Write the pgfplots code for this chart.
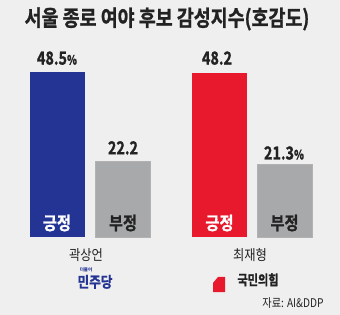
\documentclass[border=0pt]{standalone}
\usepackage{pgfplots}
\pgfplotsset{compat=1.18}
\usepackage{fontspec}
\setmainfont{Noto Sans CJK KR}
\newfontfamily\heavy{Noto Sans CJK KR Bold}[FakeBold=1.2]
\definecolor{bg}{HTML}{EFEFEF}
\definecolor{dblue}{HTML}{243494}
\definecolor{dred}{HTML}{E8192C}
\definecolor{lgray}{HTML}{A8A9AB}
\definecolor{txt}{HTML}{222222}
\begin{document}
\begin{tikzpicture}
\begin{axis}[
 width=340bp, height=315bp, scale only axis,
 xmin=0, xmax=340, ymin=-22.94, ymax=69.7,
 hide axis, clip=false,
]
\fill[bg] (rel axis cs:0,0) rectangle (rel axis cs:1,1);
\addplot[ybar, bar shift=0pt, bar width=55, fill=dblue, draw=none] coordinates {(57.5,48.5)};
\addplot[ybar, bar shift=0pt, bar width=55, fill=lgray, draw=gray!60] coordinates {(123,22.2)};
\addplot[ybar, bar shift=0pt, bar width=55, fill=dred, draw=none] coordinates {(219.5,48.2)};
\addplot[ybar, bar shift=0pt, bar width=55, fill=lgray, draw=gray!60] coordinates {(284.5,21.3)};
% title
\node[text=txt, font=\fontsize{22}{24}\selectfont\heavy, xscale=0.84] at (axis cs:167,64.1) {서울 종로 여야 후보 감성지수(호감도)};
% values
\node[text=txt, font=\fontsize{18}{20}\selectfont\heavy, xscale=0.8] at (axis cs:57,52.6) {48.5{\fontsize{13}{14}\selectfont\%}};
\node[text=txt, font=\fontsize{18}{20}\selectfont\heavy, xscale=0.8] at (axis cs:123,26.2) {22.2};
\node[text=txt, font=\fontsize{18}{20}\selectfont\heavy, xscale=0.8] at (axis cs:217,52.6) {48.2};
\node[text=txt, font=\fontsize{18}{20}\selectfont\heavy, xscale=0.8] at (axis cs:284,24.7) {21.3{\fontsize{13}{14}\selectfont\%}};
% in-bar labels
\node[text=white, font=\fontsize{18}{20}\selectfont\heavy, xscale=0.85] at (axis cs:57,4.1) {긍정};
\node[text=txt, font=\fontsize{18}{20}\selectfont\heavy, xscale=0.85] at (axis cs:123,4.1) {부정};
\node[text=white, font=\fontsize{18}{20}\selectfont\heavy, xscale=0.85] at (axis cs:219.5,4.1) {긍정};
\node[text=txt, font=\fontsize{18}{20}\selectfont\heavy, xscale=0.85] at (axis cs:284.5,4.1) {부정};
% names
\node[text=txt, font=\fontsize{14.5}{16}\selectfont, xscale=0.85] at (axis cs:86,-5.3) {곽상언};
\node[text=txt, font=\fontsize{14.5}{16}\selectfont, xscale=0.85] at (axis cs:250,-5.3) {최재형};
% party logos
\node[text=dblue, font=\fontsize{4.5}{5}\selectfont\bfseries] at (axis cs:86,-9.7) {더불어};
\node[text=dblue, font=\fontsize{15}{16}\selectfont\heavy, xscale=0.85] at (axis cs:95,-13.2) {민주당};
\fill[dred] (axis cs:218,-11.76) -- (axis cs:225,-11.76) -- (axis cs:225,-16.18) -- (axis cs:213,-16.18) -- (axis cs:213,-13.53) -- cycle;
\node[text=txt, font=\fontsize{14}{15}\selectfont\heavy, xscale=0.8] at (axis cs:258,-12.6) {국민의힘};
% source
\node[text=txt, font=\fontsize{12}{13}\selectfont, xscale=0.85] at (axis cs:293,-19.4) {자료: AI\&DDP};
\end{axis}
\end{tikzpicture}
\end{document}
